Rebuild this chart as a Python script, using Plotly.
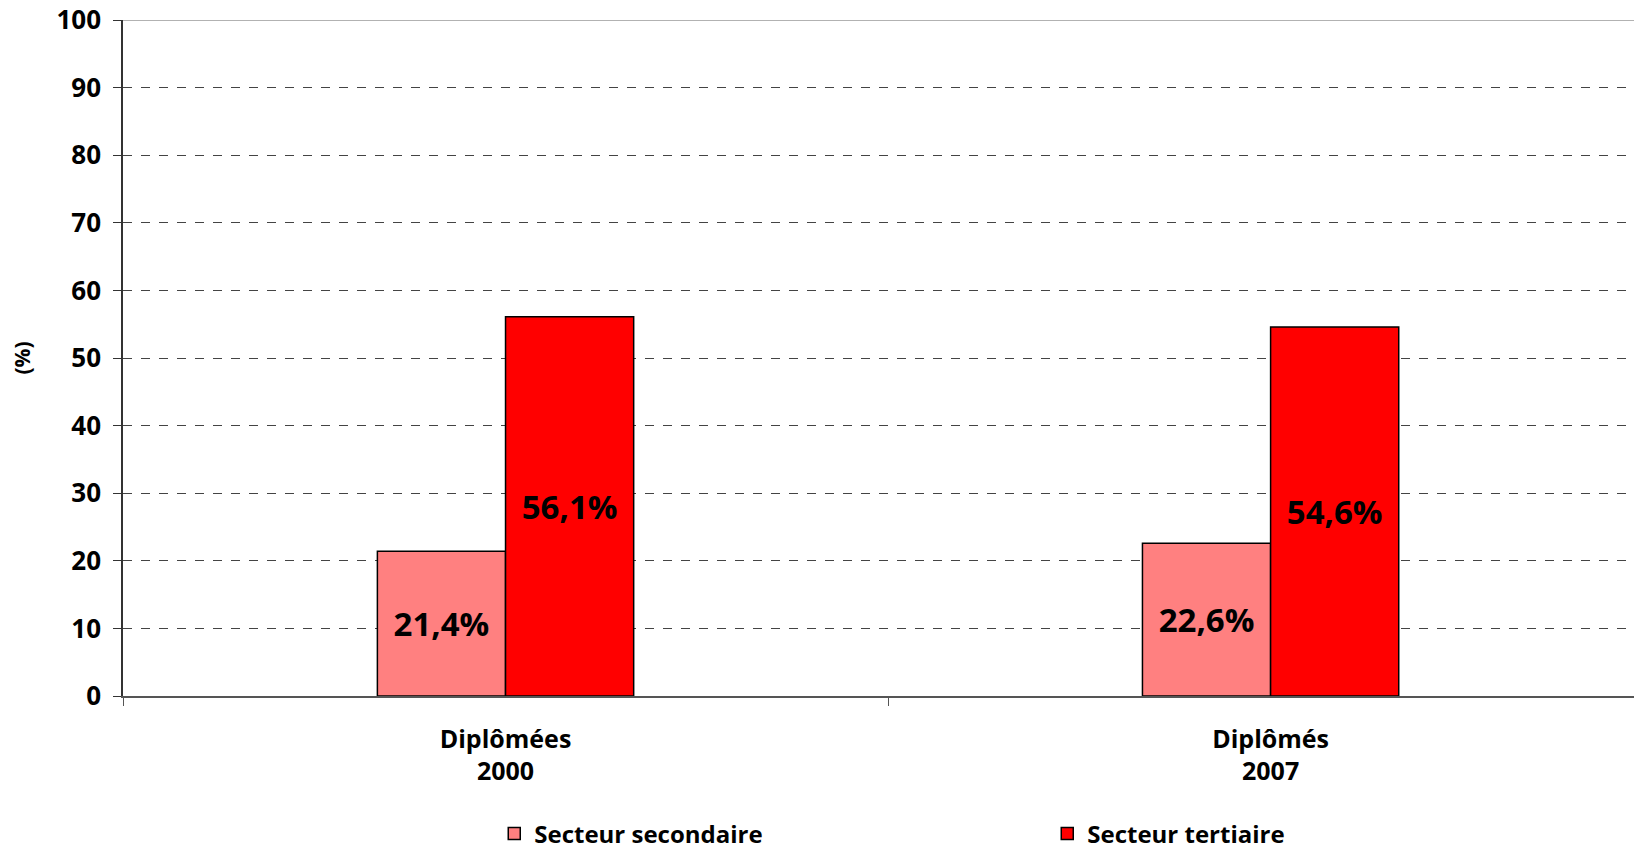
import plotly.graph_objects as go

categories = ["Diplômées<br>2000", "Diplômés<br>2007"]
secondaire = [21.4, 22.6]
tertiaire = [56.1, 54.6]
y_ticks = [0, 10, 20, 30, 40, 50, 60, 70, 80, 90, 100]

font = "'Open Sans', sans-serif"

def fr(v):
    return "{}%".format(str(v).replace(".", ","))

fig = go.Figure()
fig.add_trace(go.Bar(x=categories, y=secondaire, name="Secteur secondaire",
                     marker=dict(color="#FF8080", line=dict(color="black", width=1.5)),
                     text=[fr(v) for v in secondaire], textposition="inside",
                     insidetextanchor="middle",
                     textfont=dict(size=33, color="black", family=font, weight="bold")))
fig.add_trace(go.Bar(x=categories, y=tertiaire, name="Secteur tertiaire",
                     marker=dict(color="#FF0000", line=dict(color="black", width=1.5)),
                     text=[fr(v) for v in tertiaire], textposition="inside",
                     insidetextanchor="middle",
                     textfont=dict(size=33, color="black", family=font, weight="bold")))

fig.update_layout(
    width=1634, height=849,
    margin=dict(l=123, r=0, t=20, b=153, autoexpand=False),
    plot_bgcolor="white", paper_bgcolor="white",
    barmode="group", bargap=0.665, bargroupgap=0,
    font=dict(family=font, size=22, color="black", weight="bold"),
    legend=dict(orientation="h", x=0.2457, y=-0.204, xanchor="left", yanchor="middle",
                entrywidth=508, entrywidthmode="pixels",
                font=dict(size=24, family=font, weight="bold"), itemwidth=30, traceorder="normal"),
    showlegend=True,
)
fig.update_xaxes(range=[-0.5, 1.475], showline=True, linecolor="#555", linewidth=1.5,
                 ticks="outside", tickson="boundaries", ticklen=8, tickcolor="#555",
                 tickfont=dict(size=25, family=font, weight="bold"), ticklabelstandoff=20)
fig.update_yaxes(range=[0, 100], tickvals=y_ticks, showline=True, linecolor="#333", linewidth=1.5,
                 ticks="outside", ticklen=8, tickcolor="#333", ticklabeloverflow="allow",
                 showgrid=True, gridcolor="#444", griddash="dash", gridwidth=1,
                 tickfont=dict(size=26, family=font, weight="bold"),
                 ticklabelstandoff=7,
                 title=dict(text="(%)", font=dict(size=21, family=font, weight="bold"), standoff=20))
# bordure haute du graphique
fig.add_shape(type="line", xref="paper", yref="y", x0=0, x1=1, y0=100, y1=100,
              line=dict(color="#999", width=1.5))

fig.write_html("out.html", config={"displayModeBar": False},
               post_script="document.body.style.margin='0';")
